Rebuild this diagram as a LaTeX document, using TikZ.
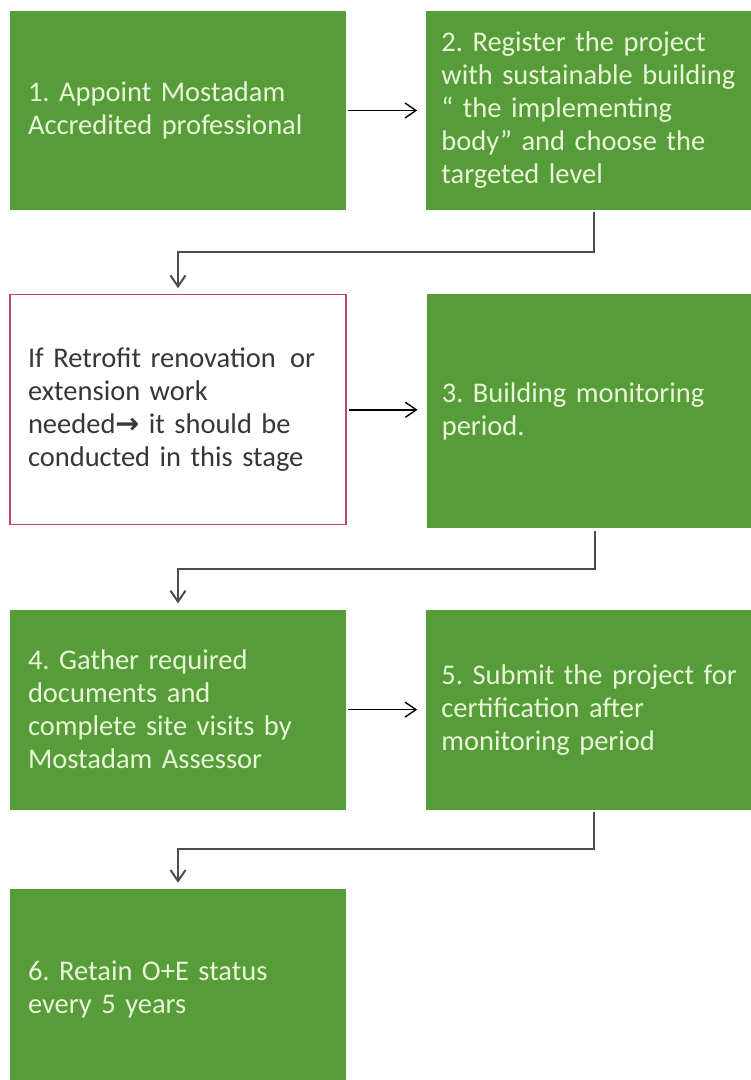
\documentclass[tikz,border=0pt]{standalone}
\usepackage{fontspec}
\setmainfont{Carlito}
\newfontfamily\arrowfont{DejaVu Sans}
\usetikzlibrary{arrows.meta,positioning}
\definecolor{stagegreen}{RGB}{86,157,58}
\definecolor{stagetext}{RGB}{232,245,215}
\definecolor{noteborder}{RGB}{196,70,96}
\definecolor{notetext}{RGB}{55,55,55}
\frenchspacing
\tikzset{
  stage/.style={
      rectangle,
      inner xsep=18pt,
      inner ysep=0pt,
      text width=300pt,
      align=left,
      fill=stagegreen,
      text=stagetext,
      font=\fontsize{28.5}{33}\selectfont
  },
  rightstage/.style={
      stage,
      inner xsep=15pt,
      text width=306pt
  },
  note/.style={
      stage,
      fill=white,
      draw=noteborder,
      line width=1.2pt,
      text=notetext
  },
  link/.style={->, line width=1.4pt, shorten <=2pt, shorten >=9pt},
  elbow/.style={->, draw=black!70, line width=2pt, shorten <=2pt, shorten >=6pt}
}

\begin{document}
\begin{tikzpicture}[>={Straight Barb[length=11pt,width=15pt]}]
    \useasboundingbox (0,0) rectangle (751pt,-1080pt);
    % first row
    \node[stage, minimum height=199pt] (appoint) at (178pt,-110.5pt)
      {1. Appoint Mostadam\\Accredited professional};
    \node[rightstage, minimum height=199pt, right=80pt of appoint] (register)
      {2. Register the project\\with sustainable building\\“ the implementing\\body” and choose the\\targeted level};
    % second row
    \node[note, minimum height=230pt, below=84pt of appoint] (retrofit)
      {If Retrofit renovation\, or\\extension work\\needed{\arrowfont\bfseries →} it should be\\conducted in this stage};
    \node[rightstage, minimum height=234pt, below right=0pt and 80pt of retrofit.north east] (monitor)
      {3. Building monitoring\\period.};
    % third row
    \node[stage, minimum height=200pt, below=84pt of retrofit] (gather)
      {4. Gather required\\documents and\\complete site visits by\\Mostadam Assessor};
    \node[rightstage, minimum height=200pt, right=80pt of gather] (submit)
      {5. Submit the project for\\certification after\\monitoring period};
    % last row
    \node[stage, minimum height=200pt, below=79pt of gather] (retain)
      {6. Retain O+E status\\every 5 years};

    \draw[link] (appoint) -- (register);
    \draw[link] (retrofit) -- (retrofit -| monitor.west);
    \draw[link] (gather) -- (submit);
    \draw[elbow] (register.south) -- ++(0,-42pt) -| (retrofit.north);
    \draw[elbow] (monitor.south) -- ++(0,-40pt) -| (gather.north);
    \draw[elbow] (submit.south) -- ++(0,-39pt) -| (retain.north);
\end{tikzpicture}
\end{document}
